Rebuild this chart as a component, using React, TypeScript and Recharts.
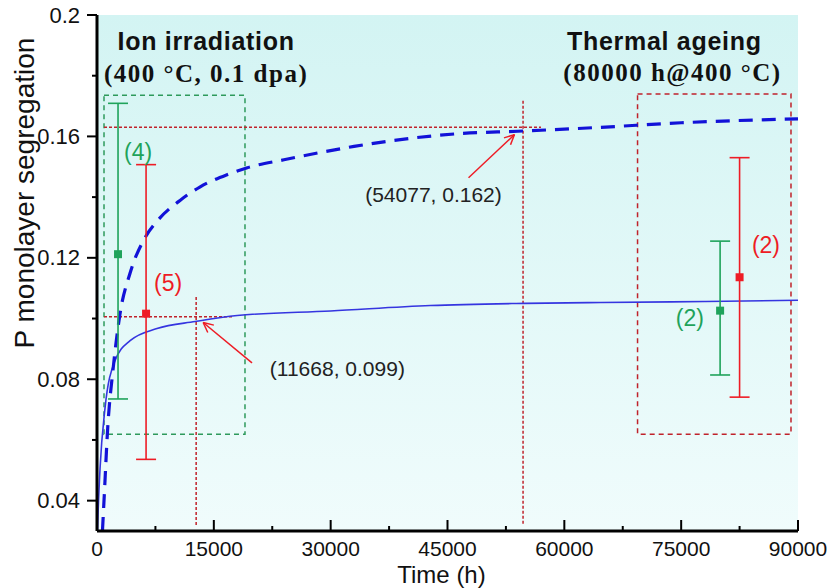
import {
  ComposedChart,
  Line,
  Scatter,
  ErrorBar,
  XAxis,
  YAxis,
  CartesianGrid,
  ReferenceLine,
  ReferenceArea,
  ReferenceDot,
} from "recharts";

// 曲线数据
const solidTime = [60, 130, 390, 1030, 2300, 4250, 7700, 12600, 18000, 30000, 42800, 55000, 64700, 78000, 90000];
const solidP = [0.03, 0.0354, 0.0506, 0.0705, 0.086, 0.0927, 0.0967, 0.099, 0.101, 0.1025, 0.1043, 0.105, 0.1053, 0.1056, 0.106];

const dashTime = [700, 900, 1400, 2050, 2950, 4250, 6200, 7850, 10700, 13250, 16700, 19300, 24000, 33000, 40000, 47000, 54000, 64700, 75000, 90000];
const dashP = [0.03, 0.04, 0.065, 0.083, 0.1015, 0.115, 0.1268, 0.1325, 0.139, 0.1434, 0.1474, 0.1497, 0.1523, 0.1567, 0.1593, 0.161, 0.1617, 0.163, 0.1645, 0.1658];

// 实验点（误差棒：[下, 上]）
const greenTime = [2700, 80000];
const greenP = [0.1212, 0.1026];
const greenErr: [number, number][] = [[0.0477, 0.0497], [0.0212, 0.0229]];

const redTime = [6300, 82500];
const redP = [0.1016, 0.1136];
const redErr: [number, number][] = [[0.048, 0.0491], [0.0395, 0.0394]];

const xMajorTicks = [0, 15000, 30000, 45000, 60000, 75000, 90000];
const xMinorTicks = [7500, 22500, 37500, 52500, 67500, 82500];
const yMajorTicks = [0.04, 0.08, 0.12, 0.16, 0.2];
const yMinorTicks = [0.06, 0.1, 0.14, 0.18];

const solidData = solidTime.map((t, i) => ({ t, p: solidP[i] }));
const dashData = dashTime.map((t, i) => ({ t, p: dashP[i] }));
const greenData = greenTime.map((t, i) => ({ t, p: greenP[i], err: greenErr[i] }));
const redData = redTime.map((t, i) => ({ t, p: redP[i], err: redErr[i] }));

const SANS = "'Liberation Sans', Arial, sans-serif";
const SERIF = "'Liberation Serif', 'Times New Roman', serif";
const GREEN = "#1fa35b";
const RED = "#ee1c25";
const DARKRED = "#c0222b";
const GREENBOX = "#2e9a5c";

const XTick = (props: any) => {
  const { x, y, payload } = props;
  const major = xMajorTicks.includes(payload.value);
  return (
    <g>
      <line x1={x} x2={x} y1={y} y2={y - (major ? 11 : 5)} stroke="#000" strokeWidth={2} />
      {major && (
        <text x={x} y={y + 17} textAnchor="middle" dominantBaseline="central" fontSize={21} fontFamily={SANS} fill="#111">
          {payload.value}
        </text>
      )}
    </g>
  );
};

const YTick = (props: any) => {
  const { x, y, payload } = props;
  const major = yMajorTicks.includes(payload.value);
  return (
    <g>
      <line x1={x} x2={x - (major ? 10 : 5)} y1={y} y2={y} stroke="#000" strokeWidth={2} />
      {major && (
        <text x={x - 17} y={y} textAnchor="end" dominantBaseline="central" fontSize={22} fontFamily={SANS} fill="#111">
          {payload.value}
        </text>
      )}
    </g>
  );
};

// 带箭头的线（终点为箭头）
const Arrow = (props: any) => {
  const { x1, y1, x2, y2 } = props;
  const a = Math.atan2(y2 - y1, x2 - x1);
  const len = 11;
  const s = Math.PI / 7;
  return (
    <g stroke={RED} strokeWidth={1.5} fill="none">
      <line x1={x1} y1={y1} x2={x2} y2={y2} />
      <line x1={x2} y1={y2} x2={x2 - len * Math.cos(a - s)} y2={y2 - len * Math.sin(a - s)} />
      <line x1={x2} y1={y2} x2={x2 - len * Math.cos(a + s)} y2={y2 - len * Math.sin(a + s)} />
    </g>
  );
};

const YLabel = (props: any) => {
  const vb = props.viewBox;
  const cx = vb.x - 3;
  const cy = vb.y + vb.height * 0.345;
  return (
    <text
      transform={`translate(${cx},${cy}) rotate(-90)`}
      textAnchor="middle"
      dominantBaseline="central"
      fontSize={28}
      fontFamily={SANS}
      fill="#111"
    >
      P monolayer segregation
    </text>
  );
};

const XLabel = (props: any) => {
  const vb = props.viewBox;
  return (
    <text
      x={vb.x + vb.width / 2 - 6}
      y={vb.y + vb.height - 5}
      textAnchor="middle"
      fontSize={24}
      fontFamily={SANS}
      fill="#111"
    >
      Time (h)
    </text>
  );
};

const noteLabel = (value: string, fill: string, fontSize: number, extra: any = {}) => ({
  value,
  position: "center" as const,
  fill,
  fontSize,
  fontFamily: SANS,
  ...extra,
});

export default function App() {
  return (
    <div style={{ position: "absolute", left: 0, top: 0 }}>
      <ComposedChart width={829} height={588} margin={{ top: 15, right: 31, bottom: 0, left: 27 }}>
        <defs>
          <linearGradient id="bg" x1="0" y1="0" x2="0" y2="1">
            <stop offset="0%" stopColor="#d3f4f3" />
            <stop offset="100%" stopColor="#f0fcfc" />
          </linearGradient>
        </defs>
        <CartesianGrid horizontal={false} vertical={false} fill="url(#bg)" />
        <XAxis
          dataKey="t"
          type="number"
          domain={[0, 90000]}
          allowDataOverflow
          ticks={[...xMajorTicks, ...xMinorTicks].sort((a, b) => a - b)}
          interval={0}
          tick={<XTick />}
          tickSize={0}
          tickMargin={0}
          tickLine={false}
          axisLine={{ stroke: "#000", strokeWidth: 3 }}
          height={57}
          label={XLabel}
        />
        <XAxis xAxisId="top" orientation="top" type="number" domain={[0, 90000]} height={0} tick={false} tickLine={false} axisLine={{ stroke: "#000", strokeWidth: 3 }} />
        <YAxis
          type="number"
          domain={[0.03, 0.2]}
          allowDataOverflow
          ticks={[...yMajorTicks, ...yMinorTicks].sort((a, b) => a - b)}
          interval={0}
          tick={<YTick />}
          tickSize={0}
          tickMargin={0}
          tickLine={false}
          axisLine={{ stroke: "#000", strokeWidth: 3 }}
          width={70}
          label={YLabel}
        />
        <YAxis yAxisId="right" orientation="right" type="number" domain={[0.03, 0.2]} width={0} tick={false} tickLine={false} axisLine={{ stroke: "#000", strokeWidth: 3 }} />

        {/* 虚线框 */}
        <ReferenceArea x1={900} x2={19000} y1={0.0619} y2={0.1736} fill="none" stroke={GREENBOX} strokeWidth={1.5} strokeDasharray="5 4" />
        <ReferenceArea x1={69400} x2={89100} y1={0.0619} y2={0.174} fill="none" stroke={DARKRED} strokeWidth={1.5} strokeDasharray="5 4" />

        {/* 参考线 */}
        <ReferenceLine segment={[{ x: 900, y: 0.163 }, { x: 57000, y: 0.163 }]} stroke={DARKRED} strokeWidth={1.5} strokeDasharray="3 2" />
        <ReferenceLine segment={[{ x: 54700, y: 0.0324 }, { x: 54700, y: 0.172 }]} stroke={DARKRED} strokeWidth={1.5} strokeDasharray="3 2" />
        <ReferenceLine segment={[{ x: 900, y: 0.1006 }, { x: 17500, y: 0.1006 }]} stroke={DARKRED} strokeWidth={1.5} strokeDasharray="3 2" />
        <ReferenceLine segment={[{ x: 12730, y: 0.032 }, { x: 12730, y: 0.1076 }]} stroke={DARKRED} strokeWidth={1.5} strokeDasharray="3 2" />

        <ReferenceLine segment={[{ x: 19900, y: 0.0854 }, { x: 13630, y: 0.0987 }]} shape={Arrow} />
        <ReferenceLine segment={[{ x: 47700, y: 0.1464 }, { x: 53600, y: 0.1606 }]} shape={Arrow} />

        <Line data={solidData} dataKey="p" type="monotone" stroke="#3535e0" strokeWidth={1.6} dot={false} isAnimationActive={false} />
        <Line data={dashData} dataKey="p" type="monotone" stroke="#1212d8" strokeWidth={3.2} strokeDasharray="14 9" dot={false} isAnimationActive={false} />

        <Scatter data={greenData} dataKey="p" fill={GREEN} shape="square" isAnimationActive={false}>
          <ErrorBar dataKey="err" direction="y" width={10} stroke={GREEN} strokeWidth={1.6} />
        </Scatter>
        <Scatter data={redData} dataKey="p" fill={RED} shape="square" isAnimationActive={false}>
          <ErrorBar dataKey="err" direction="y" width={10} stroke={RED} strokeWidth={1.6} />
        </Scatter>

        {/* 文字标注 */}
        <ReferenceDot x={5270} y={0.155} r={0} stroke="none" label={noteLabel("(4)", GREEN, 23)} />
        <ReferenceDot x={9130} y={0.1116} r={0} stroke="none" label={noteLabel("(5)", RED, 23)} />
        <ReferenceDot x={85890} y={0.1242} r={0} stroke="none" label={noteLabel("(2)", RED, 23)} />
        <ReferenceDot x={76110} y={0.1003} r={0} stroke="none" label={noteLabel("(2)", GREEN, 23)} />
        <ReferenceDot x={30860} y={0.0834} r={0} stroke="none" label={noteLabel("(11668, 0.099)", "#222", 21)} />
        <ReferenceDot x={43200} y={0.1407} r={0} stroke="none" label={noteLabel("(54077, 0.162)", "#222", 21)} />

        <ReferenceDot x={14010} y={0.1915} r={0} stroke="none" label={noteLabel("Ion irradiation", "#111", 25, { fontWeight: "bold", letterSpacing: 0.7 })} />
        <ReferenceDot x={14010} y={0.1808} r={0} stroke="none" label={noteLabel("(400 °C, 0.1 dpa)", "#111", 25, { fontWeight: "bold", fontFamily: SERIF, letterSpacing: 1.5 })} />
        <ReferenceDot x={72840} y={0.1915} r={0} stroke="none" label={noteLabel("Thermal ageing", "#111", 25, { fontWeight: "bold", letterSpacing: 0.7 })} />
        <ReferenceDot x={73890} y={0.1812} r={0} stroke="none" label={noteLabel("(80000 h@400 °C)", "#111", 25, { fontWeight: "bold", fontFamily: SERIF, letterSpacing: 1.5 })} />
      </ComposedChart>
    </div>
  );
}
